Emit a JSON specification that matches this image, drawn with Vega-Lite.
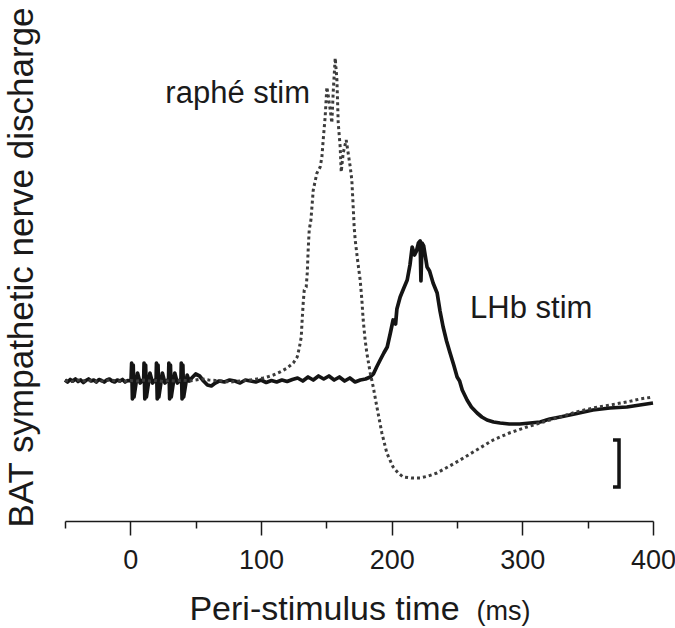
{
  "$schema": "https://vega.github.io/schema/vega-lite/v6.json",
  "width": 588,
  "height": 521,
  "autosize": {"type": "none"},
  "padding": {"left": 65, "top": 0, "right": 22, "bottom": 107},
  "background": "white",
  "config": {
    "view": {"stroke": null},
    "font": "Liberation Sans",
    "axis": {"grid": false, "labelFont": "Liberation Sans", "titleFont": "Liberation Sans", "labelColor": "#1a1a1a", "titleColor": "#1a1a1a", "titleFontWeight": "normal"}
  },
  "datasets": {
    "lhb": [
      {"t": -50, "v": 1}, {"t": -48, "v": -1}, {"t": -46, "v": 1.5}, {"t": -44, "v": 0}, {"t": -42, "v": 2},
      {"t": -40, "v": -0.5}, {"t": -38, "v": 1}, {"t": -36, "v": -1.5}, {"t": -34, "v": 0.5}, {"t": -32, "v": 2},
      {"t": -30, "v": 0}, {"t": -28, "v": 1}, {"t": -26, "v": -1}, {"t": -24, "v": 1.5}, {"t": -22, "v": 0.5},
      {"t": -20, "v": -1}, {"t": -18, "v": 1}, {"t": -16, "v": 2}, {"t": -14, "v": 0}, {"t": -12, "v": -1},
      {"t": -10, "v": 1}, {"t": -8, "v": 0}, {"t": -6, "v": 1.5}, {"t": -4, "v": -1}, {"t": -2, "v": 0.5},
      {"t": 0.5, "v": 0}, {"t": 1, "v": 18}, {"t": 1.6, "v": -18}, {"t": 2.2, "v": 16}, {"t": 2.8, "v": -16}, {"t": 5.5, "v": 8}, {"t": 7.5, "v": -2}, {"t": 9.5, "v": 1},
      {"t": 10.2, "v": 0}, {"t": 10.5, "v": 18}, {"t": 11.1, "v": -18}, {"t": 11.7, "v": 16}, {"t": 12.3, "v": -16}, {"t": 15, "v": 8}, {"t": 17, "v": -2}, {"t": 19, "v": 1},
      {"t": 19.7, "v": 0}, {"t": 20, "v": 18}, {"t": 20.6, "v": -18}, {"t": 21.2, "v": 16}, {"t": 21.8, "v": -16}, {"t": 24.5, "v": 8}, {"t": 26.5, "v": -2}, {"t": 28.5, "v": 1},
      {"t": 29.2, "v": 0}, {"t": 29.5, "v": 18}, {"t": 30.1, "v": -18}, {"t": 30.7, "v": 16}, {"t": 31.3, "v": -16}, {"t": 34, "v": 8}, {"t": 36, "v": -2}, {"t": 38, "v": 1},
      {"t": 38.7, "v": 0}, {"t": 39, "v": 18}, {"t": 39.6, "v": -18}, {"t": 40.2, "v": 16}, {"t": 40.8, "v": -16}, {"t": 43.5, "v": 6}, {"t": 45, "v": 0},
      {"t": 47, "v": 3}, {"t": 50, "v": 7}, {"t": 53, "v": 5}, {"t": 56, "v": 0}, {"t": 59, "v": -4}, {"t": 62, "v": -5},
      {"t": 65, "v": -2}, {"t": 68, "v": 0}, {"t": 72, "v": -1}, {"t": 76, "v": 1}, {"t": 80, "v": 0}, {"t": 84, "v": -2},
      {"t": 88, "v": 1}, {"t": 92, "v": 0}, {"t": 96, "v": -1}, {"t": 100, "v": 1}, {"t": 104, "v": -1.5}, {"t": 108, "v": 0.5},
      {"t": 112, "v": -1}, {"t": 116, "v": 1}, {"t": 120, "v": -0.5}, {"t": 124, "v": 1.5}, {"t": 128, "v": 3}, {"t": 132, "v": 0},
      {"t": 136, "v": 4}, {"t": 140, "v": 1}, {"t": 144, "v": 5}, {"t": 148, "v": 2}, {"t": 152, "v": 5}, {"t": 156, "v": 1},
      {"t": 160, "v": 4}, {"t": 164, "v": 0}, {"t": 168, "v": 3}, {"t": 172, "v": -1}, {"t": 176, "v": 1}, {"t": 180, "v": 2},
      {"t": 183.6, "v": 4}, {"t": 186, "v": 7}, {"t": 188.5, "v": 14}, {"t": 191.2, "v": 21}, {"t": 194, "v": 28}, {"t": 196.6, "v": 34},
      {"t": 199, "v": 48}, {"t": 201.1, "v": 61}, {"t": 203, "v": 57}, {"t": 204, "v": 72}, {"t": 206.5, "v": 84}, {"t": 209, "v": 92},
      {"t": 211.9, "v": 101}, {"t": 214, "v": 116}, {"t": 215.7, "v": 134}, {"t": 217.5, "v": 126}, {"t": 219, "v": 130}, {"t": 220.5, "v": 138},
      {"t": 221.8, "v": 140}, {"t": 222.4, "v": 100}, {"t": 223.2, "v": 138}, {"t": 224.5, "v": 135}, {"t": 227.1, "v": 114}, {"t": 229, "v": 110},
      {"t": 231.7, "v": 98}, {"t": 234.8, "v": 88}, {"t": 237, "v": 70}, {"t": 239.4, "v": 54}, {"t": 242, "v": 40}, {"t": 244.7, "v": 28},
      {"t": 247.5, "v": 16}, {"t": 250.1, "v": 4}, {"t": 252, "v": 0}, {"t": 254, "v": -9}, {"t": 257.7, "v": -19}, {"t": 261, "v": -26},
      {"t": 265.4, "v": -32}, {"t": 269, "v": -36}, {"t": 273, "v": -39}, {"t": 278, "v": -41}, {"t": 283, "v": -42}, {"t": 290, "v": -43},
      {"t": 298, "v": -43}, {"t": 306, "v": -42}, {"t": 313.6, "v": -41}, {"t": 321, "v": -38}, {"t": 328.9, "v": -36}, {"t": 340, "v": -33},
      {"t": 354, "v": -29}, {"t": 367, "v": -27}, {"t": 380, "v": -26}, {"t": 390, "v": -24}, {"t": 400, "v": -22}
    ],
    "raphe": [
      {"t": -50, "v": 0.5}, {"t": -45, "v": -0.5}, {"t": -40, "v": 1}, {"t": -35, "v": 0}, {"t": -30, "v": 0.5},
      {"t": -25, "v": -1}, {"t": -20, "v": 0.5}, {"t": -15, "v": 1}, {"t": -10, "v": 0}, {"t": -5, "v": -0.5},
      {"t": 0, "v": 0.5}, {"t": 5, "v": 0}, {"t": 10, "v": 1}, {"t": 15, "v": 0}, {"t": 20, "v": 0.5}, {"t": 25, "v": -0.5},
      {"t": 30, "v": 0.5}, {"t": 35, "v": 0}, {"t": 40, "v": 1}, {"t": 45, "v": 0}, {"t": 50, "v": 1}, {"t": 55, "v": 2},
      {"t": 60, "v": 1}, {"t": 65, "v": 0.5}, {"t": 70, "v": 0}, {"t": 76.5, "v": -1}, {"t": 84, "v": 0}, {"t": 91.8, "v": 1},
      {"t": 97, "v": 2}, {"t": 101.7, "v": 3}, {"t": 106, "v": 4.5}, {"t": 109.4, "v": 6}, {"t": 114.7, "v": 9}, {"t": 120.1, "v": 13},
      {"t": 124.7, "v": 18}, {"t": 127.7, "v": 24}, {"t": 129.3, "v": 33}, {"t": 130.8, "v": 44}, {"t": 131.5, "v": 61}, {"t": 132.3, "v": 78},
      {"t": 133.1, "v": 91}, {"t": 134.6, "v": 94}, {"t": 135.4, "v": 108}, {"t": 136.1, "v": 131}, {"t": 136.9, "v": 151}, {"t": 138.2, "v": 161},
      {"t": 140, "v": 191}, {"t": 142.8, "v": 208}, {"t": 145.3, "v": 214}, {"t": 146.6, "v": 224}, {"t": 147.6, "v": 241}, {"t": 149.1, "v": 264},
      {"t": 150.4, "v": 294}, {"t": 151.5, "v": 285}, {"t": 153, "v": 271}, {"t": 154.2, "v": 258}, {"t": 155.3, "v": 290}, {"t": 156.8, "v": 323},
      {"t": 158.1, "v": 301}, {"t": 159.1, "v": 258}, {"t": 160.6, "v": 234}, {"t": 161.4, "v": 209}, {"t": 162.9, "v": 228}, {"t": 165.2, "v": 241},
      {"t": 166.7, "v": 228}, {"t": 168.3, "v": 214}, {"t": 169.5, "v": 201}, {"t": 170.3, "v": 181}, {"t": 171.3, "v": 154}, {"t": 172.1, "v": 141},
      {"t": 174, "v": 120}, {"t": 175.9, "v": 101}, {"t": 177.2, "v": 81}, {"t": 178.2, "v": 61}, {"t": 179.7, "v": 41}, {"t": 181, "v": 28},
      {"t": 183.6, "v": 8}, {"t": 185.9, "v": -6}, {"t": 188.7, "v": -26}, {"t": 192.5, "v": -52}, {"t": 196.3, "v": -72}, {"t": 201.1, "v": -86},
      {"t": 205, "v": -92}, {"t": 208.8, "v": -96}, {"t": 215, "v": -97}, {"t": 221.8, "v": -97}, {"t": 228, "v": -95}, {"t": 234.6, "v": -92},
      {"t": 243, "v": -86}, {"t": 252.4, "v": -79}, {"t": 265, "v": -69}, {"t": 277.6, "v": -59}, {"t": 290, "v": -52}, {"t": 303.4, "v": -46},
      {"t": 316, "v": -41}, {"t": 328.9, "v": -36}, {"t": 341, "v": -31}, {"t": 354.1, "v": -27}, {"t": 367, "v": -24}, {"t": 379.9, "v": -21},
      {"t": 390, "v": -18}, {"t": 400, "v": -16}
    ],
    "bar": [
      {"t": 369.4, "v": -59}, {"t": 374, "v": -59}, {"t": 374, "v": -106}, {"t": 369.4, "v": -106}
    ],
    "labels": [
      {"t": 26.8, "v": 278, "label": "raphé stim"},
      {"t": 260, "v": 63, "label": "LHb stim"}
    ]
  },
  "resolve": {"axis": {"x": "independent", "y": "independent"}},
  "layer": [
    {
      "data": {"name": "lhb"},
      "mark": {"type": "line", "color": "#141414", "strokeWidth": 3.7, "strokeJoin": "round"},
      "encoding": {
        "x": {"field": "t", "type": "quantitative", "scale": {"domain": [-50, 400], "nice": false, "zero": false},
          "axis": {"orient": "bottom", "values": [0, 100, 200, 300, 400], "tickSize": 14, "tickWidth": 1.5, "tickColor": "#1a1a1a",
            "domainColor": "#1a1a1a", "domainWidth": 1.5, "labelFontSize": 27, "labelPadding": 12, "labelFlush": false,
            "title": "Peri-stimulus time", "titleFontSize": 34, "titleX": 259, "titleY": 98, "titleAlign": "center", "titleBaseline": "alphabetic"}},
        "y": {"field": "v", "type": "quantitative", "scale": {"domain": [-140, 381], "nice": false, "zero": false},
          "axis": {"domain": false, "ticks": false, "labels": false, "title": "BAT sympathetic nerve discharge", "titleFontSize": 35,
            "titleX": -33, "titleY": 527, "titleAngle": 270, "titleAlign": "left", "titleBaseline": "alphabetic"}},
        "order": {"value": null}
      }
    },
    {
      "data": {"name": "raphe"},
      "mark": {"type": "line", "color": "#3c3c3c", "strokeWidth": 3, "strokeDash": [3, 3], "strokeCap": "butt"},
      "encoding": {
        "x": {"field": "t", "type": "quantitative",
          "axis": {"orient": "bottom", "values": [-50, 50, 150, 250, 350], "tickSize": 7, "tickWidth": 1.5, "tickColor": "#1a1a1a",
            "domain": false, "labels": false, "title": "(ms)", "titleFontSize": 27, "titleX": 438, "titleY": 98, "titleAlign": "center", "titleBaseline": "alphabetic"}},
        "y": {"field": "v", "type": "quantitative", "axis": null},
        "order": {"value": null}
      }
    },
    {
      "data": {"name": "bar"},
      "mark": {"type": "line", "color": "#141414", "strokeWidth": 3.5, "strokeJoin": "miter"},
      "encoding": {
        "x": {"field": "t", "type": "quantitative", "axis": null},
        "y": {"field": "v", "type": "quantitative", "axis": null},
        "order": {"value": null}
      }
    },
    {
      "data": {"name": "labels"},
      "mark": {"type": "text", "align": "left", "baseline": "alphabetic", "fontSize": 31, "color": "#1a1a1a", "font": "Liberation Sans"},
      "encoding": {
        "x": {"field": "t", "type": "quantitative", "axis": null},
        "y": {"field": "v", "type": "quantitative", "axis": null},
        "text": {"field": "label"}
      }
    }
  ]
}
